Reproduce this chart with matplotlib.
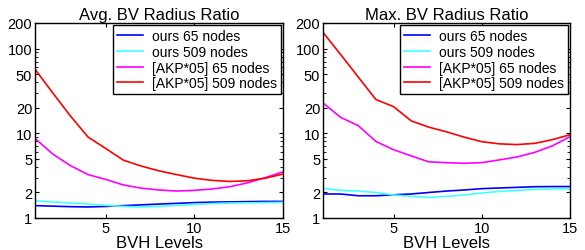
import matplotlib
matplotlib.use("Agg")
import matplotlib.pyplot as plt
from matplotlib.ticker import FixedLocator, FixedFormatter, LogLocator, NullFormatter

plt.rcParams['font.family'] = ['Liberation Sans', 'DejaVu Sans']

levels = list(range(1, 16))

# Avg. BV Radius Ratio
avg_ours65 = [1.40, 1.38, 1.36, 1.35, 1.37, 1.40, 1.43, 1.46, 1.49, 1.52, 1.54, 1.55, 1.56, 1.57, 1.57]
avg_ours509 = [1.59, 1.55, 1.50, 1.46, 1.41, 1.37, 1.35, 1.37, 1.41, 1.45, 1.48, 1.50, 1.51, 1.52, 1.53]
avg_akp65 = [8.7, 5.7, 4.15, 3.25, 2.85, 2.45, 2.25, 2.14, 2.08, 2.12, 2.2, 2.34, 2.6, 3.0, 3.5]
avg_akp509 = [57, 30, 16, 9.0, 6.6, 4.8, 4.1, 3.6, 3.25, 2.95, 2.78, 2.7, 2.75, 2.95, 3.3]

# Max. BV Radius Ratio
max_ours65 = [1.92, 1.92, 1.83, 1.83, 1.88, 1.92, 2.0, 2.08, 2.14, 2.22, 2.26, 2.30, 2.34, 2.35, 2.35]
max_ours509 = [2.24, 2.12, 2.08, 2.0, 1.87, 1.80, 1.75, 1.80, 1.87, 1.97, 2.06, 2.12, 2.18, 2.20, 2.20]
max_akp65 = [22.8, 15.4, 12.3, 8.0, 6.4, 5.4, 4.6, 4.5, 4.42, 4.5, 4.85, 5.25, 5.95, 7.1, 9.1]
max_akp509 = [155, 85, 46, 25, 20.6, 14, 11.8, 10.4, 9.0, 7.95, 7.5, 7.35, 7.6, 8.4, 9.6]

labels = ['ours 65 nodes', 'ours 509 nodes', '[AKP*05] 65 nodes', '[AKP*05] 509 nodes']
colors = ['#0000ff', '#44ffff', '#ff00ff', '#ff0000']
yticks = [1, 2, 5, 10, 20, 50, 100, 200]
ytick_labels = ['1', '2', '5', '10', '20', '50', '100', '200']
xticks = [5, 10, 15]

fig = plt.figure(figsize=(5.85, 2.51), dpi=100)
ax1 = fig.add_axes([35/585, 32/251, 248/585, 195/251])
ax2 = fig.add_axes([323/585, 32/251, 247/585, 195/251])

panels = [
    (ax1, 'Avg. BV Radius Ratio', [avg_ours65, avg_ours509, avg_akp65, avg_akp509]),
    (ax2, 'Max. BV Radius Ratio', [max_ours65, max_ours509, max_akp65, max_akp509]),
]

for ax, title, series in panels:
    for s, lab, c in zip(series, labels, colors):
        ax.plot(levels, s, color=c, lw=1.2, label=lab)
    ax.set_yscale('log')
    ax.set_xlim(1, 15)
    ax.set_ylim(1, 200)
    ax.yaxis.set_major_locator(FixedLocator(yticks))
    ax.yaxis.set_major_formatter(FixedFormatter(ytick_labels))
    ax.yaxis.set_minor_locator(LogLocator(base=10, subs=(1, 2, 3, 4, 5, 6, 7, 8, 9)))
    ax.yaxis.set_minor_formatter(NullFormatter())
    ax.set_xticks(xticks)
    ax.tick_params(direction='in', which='both', right=True, top=True, labelsize=10.5, pad=2)
    ax.tick_params(which='major', length=3)
    ax.tick_params(which='minor', length=2)
    ax.set_title(title, fontsize=12, pad=3)
    ax.set_xlabel('BVH Levels', fontsize=12, labelpad=0)
    for sp in ax.spines.values():
        sp.set_linewidth(1.0)
    leg = ax.legend(loc='upper right', fontsize=10, frameon=True, fancybox=False,
                    edgecolor='black', framealpha=1, labelspacing=0.12,
                    handlelength=1.9, handletextpad=0.6, borderpad=0.3,
                    borderaxespad=0.15)
    leg.get_frame().set_linewidth(1.0)

fig.savefig('out.png', dpi=100)
